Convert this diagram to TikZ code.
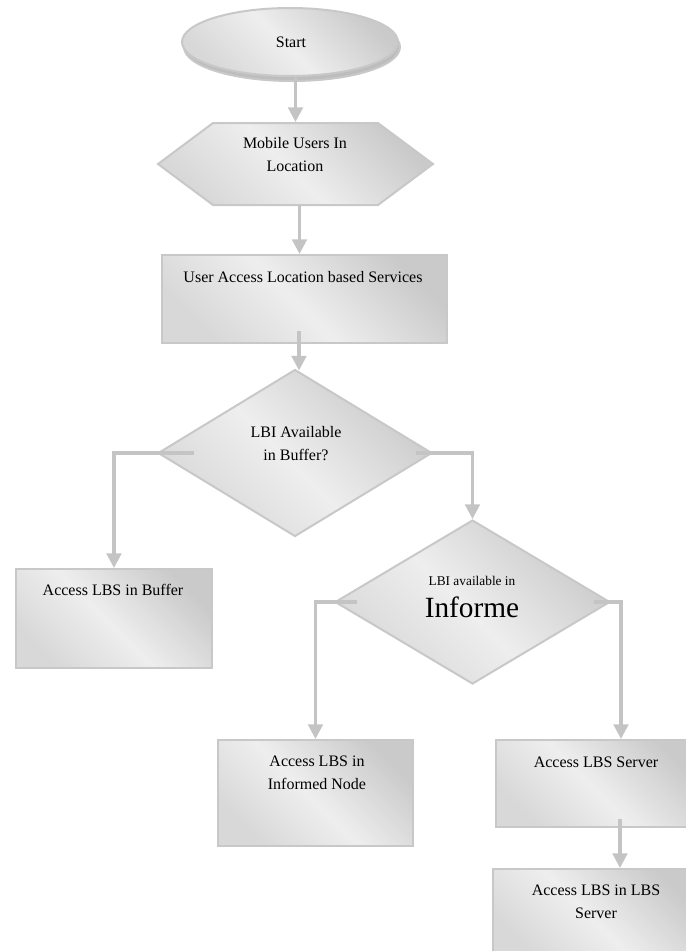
\documentclass[tikz,border=0pt]{standalone}
\usepackage{fontspec}
\setmainfont{Liberation Serif}
\usetikzlibrary{arrows.meta,shapes.geometric,shapes.symbols,calc}
\definecolor{sdark}{HTML}{CACACA}
\definecolor{slight}{HTML}{EEEEEE}
\definecolor{smid}{HTML}{D8D8D8}
\definecolor{edgec}{HTML}{C8C8C8}
\definecolor{connc}{HTML}{C4C4C4}
\definecolor{rimc}{HTML}{BDBDBD}
\pgfdeclarehorizontalshading{boxshade}{100bp}{color(0bp)=(sdark); color(25bp)=(sdark); color(52bp)=(slight); color(75bp)=(smid); color(100bp)=(smid)}
\begin{document}
\begin{tikzpicture}[x=0.75pt,y=-0.75pt,
  shaded/.style={draw=edgec, line width=1.5pt, shade, shading=boxshade, shading angle=225, inner sep=0pt},
  box/.style={shaded, rectangle},
  dia/.style={shaded, diamond},
  conn/.style={draw=connc, line width=2.3pt, -{Triangle[length=11pt,width=11pt]}},
  txt/.style={font=\fontsize{12}{17.25}\selectfont, align=center, inner sep=0pt, text=black}]
\useasboundingbox (0,0) rectangle (686,951);
% start
\node[ellipse, draw=edgec, fill=rimc, line width=1.5pt, minimum width=162pt, minimum height=51pt] (startsh) at (292,47) {};
\node[shaded, ellipse, minimum width=162pt, minimum height=51pt] (start) at (290,42) {};
\node[txt] (tstart) at (291,42) {Start};
% hexagon
\node[shaded, signal, signal to=west and east, signal pointer angle=73.4, minimum width=206.25pt, minimum height=61.5pt] (hex) at (295.5,164) {};
\node[txt] (thex) at (295,154.5) {Mobile Users In\\Location};
% user access
\node[box, minimum width=213.75pt, minimum height=66pt] (ua) at (304.5,299) {};
\node[txt] (tua) at (303,277) {User Access Location based Services};
% diamond 1
\node[dia, minimum width=205.5pt, minimum height=125.25pt] (d1) at (295,453) {};
\node[txt] (td1) at (296,444) {LBI Available\\in Buffer?};
% buffer
\node[box, minimum width=147pt, minimum height=74.25pt] (buf) at (114,618.5) {};
\node[txt] (tbuf) at (113,590) {Access LBS in Buffer};
% diamond 2
\node[dia, minimum width=206.25pt, minimum height=123pt] (d2) at (472.5,602) {};
\node[txt, font=\fontsize{10}{12}\selectfont] (td2a) at (472,581) {LBI available in};
\node[txt, font=\fontsize{22}{26}\selectfont] (td2b) at (472,607) {Informe};
% informed node
\node[box, minimum width=146.25pt, minimum height=79.5pt] (inf) at (315.5,793) {};
\node[txt] (tinf) at (317,772.5) {Access LBS in\\Informed Node};
% server
\node[box, minimum width=153pt, minimum height=65.25pt] (srv) at (598,783.5) {};
\node[txt] (tsrv) at (596,762) {Access LBS Server};
% LBS server
\node[box, minimum width=155.25pt, minimum height=68.25pt] (lbs) at (596.5,914.5) {};
\node[txt] (tlbs) at (596,901.5) {Access LBS in LBS\\Server};
% connectors
\draw[conn] (start.south -| hex.north) -- (hex.north);
\draw[conn] ($(hex.south)+(4,0)$) -- ($(hex.south |- ua.north)+(4,0)$);
\draw[conn] ($(ua.south -| d1.north)+(4,-13)$) -- ($(d1.north)+(4,2)$);
\draw[conn] ($(d1.west)+(37,0)$) -| (buf.north);
\draw[conn] ($(d1.east)+(-17,0)$) -| (d2.north);
\draw[conn] ($(d2.west)+(23,0)$) -| (inf.north);
\draw[conn] ($(d2.east)+(-17,0)$) -| ($(srv.north)+(23,0)$);
\draw[conn] ($(srv.south)+(22,-9)$) -- ($(lbs.north)+(23.5,0)$);
\end{tikzpicture}
\end{document}
